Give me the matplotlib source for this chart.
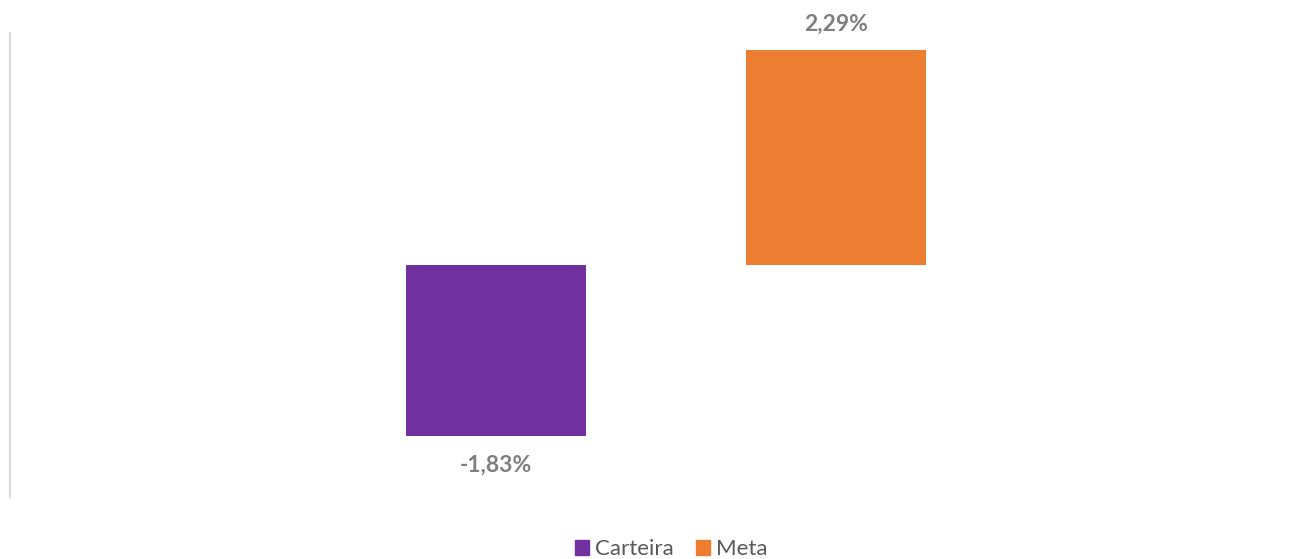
import matplotlib
matplotlib.use("Agg")
import matplotlib.pyplot as plt
from matplotlib.patches import Patch

# dados
series = ["Carteira", "Meta"]
values = [-1.83, 2.29]
labels = ["-1,83%", "2,29%"]
colors = ["#7030a0", "#ed7d31"]

plt.rcParams['font.family'] = ['Lato', 'DejaVu Sans']

W, H = 1314, 559
fig = plt.figure(figsize=(W / 100, H / 100), dpi=100)
ax = fig.add_axes([10 / W, 1 - 497 / H, 1294 / W, 464 / H])

bar_w = 180 / 1294
offsets = [-170 / 1294, 170 / 1294]

for off, v, lab, c in zip(offsets, values, labels, colors):
    ax.bar(off, v, width=bar_w, color=c)
    dy = 26 if v >= 0 else -29
    ax.annotate(lab, (off, v), xytext=(0, dy), textcoords="offset pixels",
                ha="center", va="center", fontsize=16.5, fontweight="bold",
                color="#7f7f7f")

ax.set_xlim(-656 / 1294, 638 / 1294)
ax.set_ylim(-2.48, 2.47)
ax.set_xticks([])
ax.set_yticks([])
for s in ["top", "right", "bottom"]:
    ax.spines[s].set_visible(False)
ax.spines["left"].set_color("#d9d9d9")
ax.spines["left"].set_linewidth(1.5)

handles = [Patch(color=c, label=s) for s, c in zip(series, colors)]
fig.legend(handles=handles, loc="center", bbox_to_anchor=(671 / W, 1 - 549 / H),
           ncol=2, frameon=False, fontsize=16, handlelength=0.65, handleheight=0.65,
           handletextpad=0.25, columnspacing=1.0, labelcolor="#595959")

fig.savefig("out.png", dpi=100)
